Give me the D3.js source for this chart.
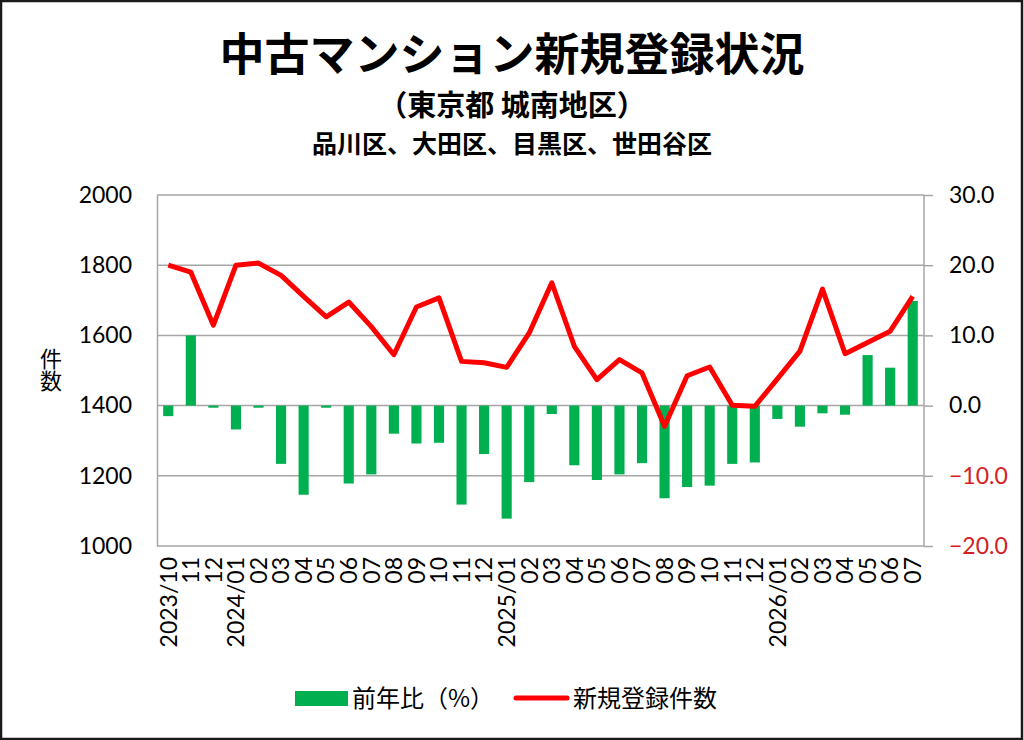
<!DOCTYPE html>
<html>
<head>
<meta charset="utf-8">
<script src="https://cdn.jsdelivr.net/npm/d3@7/dist/d3.min.js"></script>
<style>
    body { margin: 0; background: #ffffff; }
    text { font-family: Lato, "Noto Sans CJK JP", sans-serif; }
    .jp { font-family: "Noto Sans CJK JP", sans-serif; }
</style>
</head>
<body>
<div id="chart"></div>
<script>
// months shown on the x axis
var months = ["2023/10", "11", "12",
    "2024/01", "02", "03", "04", "05", "06", "07", "08", "09", "10", "11", "12",
    "2025/01", "02", "03", "04", "05", "06", "07", "08", "09", "10", "11", "12",
    "2026/01", "02", "03", "04", "05", "06", "07"];

// 前年比 (%) - bars, right axis
var yoyValues = [-1.5, 10.0, -0.3, -3.4, -0.3, -8.3, -12.7, -0.3, -11.1, -9.8, -4.0, -5.4,
    -5.3, -14.1, -6.9, -16.1, -10.9, -1.2, -8.5, -10.6, -9.8, -8.2, -13.2, -11.6,
    -11.4, -8.3, -8.1, -1.9, -3.0, -1.1, -1.3, 7.2, 5.4, 14.9];

// 新規登録件数 - line, left axis
var listingCounts = [1800, 1780, 1629, 1800, 1806, 1771, 1711, 1653, 1695, 1625, 1545, 1681,
    1707, 1526, 1522, 1509, 1607, 1750, 1569, 1474, 1531, 1493, 1341, 1485,
    1510, 1401, 1398, 1476, 1555, 1732, 1548, 1580, 1612, 1711];

var leftTicks = [1000, 1200, 1400, 1600, 1800, 2000];
var rightTicks = [-20, -10, 0, 10, 20, 30];

var width = 1024;
var height = 740;
var plot = { left: 157, right: 924, top: 195, bottom: 546 };

var green = "#00b050";
var red = "#ff0000";
var gridColor = "#a6a6a6";

var svg = d3.select("#chart").append("svg")
    .attr("width", width)
    .attr("height", height);

svg.append("rect")
    .attr("x", 1)
    .attr("y", 1)
    .attr("width", width - 3)
    .attr("height", height - 2)
    .attr("fill", "#ffffff")
    .attr("stroke", "#1a1a1a")
    .attr("stroke-width", 2.5);

// titles
svg.append("text")
    .attr("class", "jp")
    .attr("x", 512)
    .attr("y", 71)
    .attr("text-anchor", "middle")
    .attr("font-size", 45)
    .attr("font-weight", 700)
    .text("中古マンション新規登録状況");

svg.append("text")
    .attr("class", "jp")
    .attr("x", 512)
    .attr("y", 116)
    .attr("text-anchor", "middle")
    .attr("font-size", 29)
    .attr("font-weight", 700)
    .text("（東京都 城南地区）");

svg.append("text")
    .attr("class", "jp")
    .attr("x", 512)
    .attr("y", 153)
    .attr("text-anchor", "middle")
    .attr("font-size", 25)
    .attr("font-weight", 700)
    .text("品川区、大田区、目黒区、世田谷区");

// scales
var x = d3.scaleBand()
    .domain(months.map((m, i) => i))
    .range([plot.left, plot.right])
    .paddingInner(0.55)
    .paddingOuter(0.275);

var xCenter = d3.scaleBand()
    .domain(months.map((m, i) => i))
    .range([plot.left, plot.right]);

var yLeft = d3.scaleLinear()
    .domain([1000, 2000])
    .range([plot.bottom, plot.top]);

var yRight = d3.scaleLinear()
    .domain([-20, 30])
    .range([plot.bottom, plot.top]);

// gridlines
svg.append("g")
    .selectAll("line")
    .data(leftTicks)
    .enter()
    .append("line")
    .attr("x1", plot.left)
    .attr("x2", plot.right)
    .attr("y1", d => yLeft(d))
    .attr("y2", d => yLeft(d))
    .attr("stroke", gridColor)
    .attr("stroke-width", 1.5);

// left axis
var leftAxis = svg.append("g")
    .attr("transform", "translate(" + plot.left + ",0)")
    .call(d3.axisLeft(yLeft).tickValues(leftTicks).tickSize(0).tickPadding(25)
        .tickFormat(d3.format("d")));
leftAxis.select(".domain").attr("stroke", gridColor).attr("stroke-width", 1.5);
leftAxis.selectAll("text")
    .attr("font-family", "Lato, sans-serif")
    .attr("font-size", 23)
    .attr("fill", "#000000");

// right axis
var rightAxis = svg.append("g")
    .attr("transform", "translate(" + plot.right + ",0)")
    .call(d3.axisRight(yRight).tickValues(rightTicks).tickSize(9).tickPadding(16)
        .tickFormat(d3.format(".1f")));
rightAxis.select(".domain").attr("stroke", gridColor).attr("stroke-width", 1.5)
    .attr("d", "M0," + plot.bottom + "V" + plot.top);
rightAxis.selectAll(".tick line").attr("stroke", gridColor).attr("stroke-width", 1.5);
rightAxis.selectAll("text")
    .attr("font-family", "Lato, sans-serif")
    .attr("font-size", 23)
    .attr("fill", d => d < 0 ? "#d42020" : "#000000");

// y axis label, written vertically
svg.append("text")
    .attr("class", "jp")
    .attr("x", 51)
    .attr("y", 348)
    .attr("font-size", 22)
    .style("writing-mode", "vertical-rl")
    .text("件数");

// bars
svg.append("g")
    .selectAll("rect")
    .data(yoyValues)
    .enter()
    .append("rect")
    .attr("x", (d, i) => x(i))
    .attr("width", x.bandwidth())
    .attr("y", d => yRight(Math.max(0, d)))
    .attr("height", d => Math.abs(yRight(d) - yRight(0)))
    .attr("fill", green);

// line
var line = d3.line()
    .x((d, i) => xCenter(i) + xCenter.bandwidth() / 2)
    .y(d => yLeft(d));

svg.append("path")
    .datum(listingCounts)
    .attr("d", line)
    .attr("fill", "none")
    .attr("stroke", red)
    .attr("stroke-width", 5)
    .attr("stroke-linejoin", "round");

// x labels, rotated
svg.append("g")
    .selectAll("text")
    .data(months)
    .enter()
    .append("text")
    .attr("transform", (d, i) => "translate(" + (xCenter(i) + xCenter.bandwidth() / 2) + ",557) rotate(-90)")
    .attr("text-anchor", "end")
    .attr("dy", "0.36em")
    .attr("font-family", "Lato, sans-serif")
    .attr("font-size", 23)
    .text(d => d);

// legend
var legend = svg.append("g");
legend.append("rect")
    .attr("x", 295)
    .attr("y", 691)
    .attr("width", 53)
    .attr("height", 15)
    .attr("fill", green);
legend.append("text")
    .attr("class", "jp")
    .attr("x", 352)
    .attr("y", 707)
    .attr("font-size", 24)
    .text("前年比（%）");
legend.append("line")
    .attr("x1", 516)
    .attr("x2", 567)
    .attr("y1", 698)
    .attr("y2", 698)
    .attr("stroke", red)
    .attr("stroke-width", 5)
    .attr("stroke-linecap", "round");
legend.append("text")
    .attr("class", "jp")
    .attr("x", 573)
    .attr("y", 707)
    .attr("font-size", 24)
    .text("新規登録件数");
</script>
</body>
</html>
